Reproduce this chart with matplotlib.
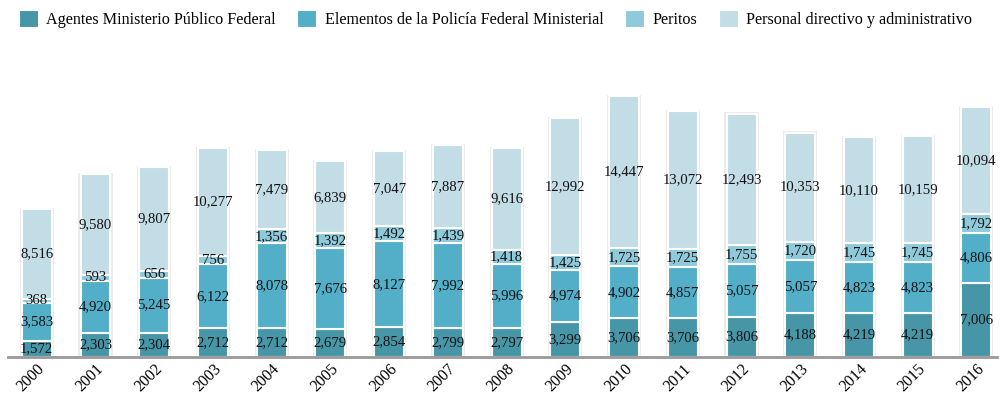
import numpy as np
import matplotlib.pyplot as plt

plt.rcParams['font.family'] = ['Liberation Serif', 'DejaVu Serif']

years = [str(y) for y in range(2000, 2017)]
agentes = [1572, 2303, 2304, 2712, 2712, 2679, 2854, 2799, 2797, 3299, 3706, 3706, 3806, 4188, 4219, 4219, 7006]
policia = [3583, 4920, 5245, 6122, 8078, 7676, 8127, 7992, 5996, 4974, 4902, 4857, 5057, 5057, 4823, 4823, 4806]
peritos = [368, 593, 656, 756, 1356, 1392, 1492, 1439, 1418, 1425, 1725, 1725, 1755, 1720, 1745, 1745, 1792]
personal = [8516, 9580, 9807, 10277, 7479, 6839, 7047, 7887, 9616, 12992, 14447, 13072, 12493, 10353, 10110, 10159, 10094]

series = [
    ("Agentes Ministerio Público Federal", agentes, "#4696a8"),
    ("Elementos de la Policía Federal Ministerial", policia, "#53afc7"),
    ("Peritos", peritos, "#8fcadb"),
    ("Personal directivo y administrativo", personal, "#c3dde6"),
]

fig = plt.figure(figsize=(10, 4.03), dpi=100)
ax = fig.add_axes([0.008, 0.114, 0.989, 0.737])

x = np.arange(len(years))
width = 0.51

# faint shadow behind each bar
totals = np.sum([s[1] for s in series], axis=0)
ax.bar(x, totals + 120, width=width + 0.07, color="#ececec", zorder=1)

bottom = np.zeros(len(years))
for name, vals, color in series:
    vals = np.array(vals)
    ax.bar(x, vals, width=width, bottom=bottom, color=color, edgecolor="white",
           linewidth=1.5, label=name, zorder=2)
    for xi, b, v in zip(x, bottom, vals):
        ax.text(xi, b + v / 2, f"{v:,}", ha="center", va="center",
                fontsize=10.6, color="#111111", zorder=3)
    bottom += vals

ax.set_xlim(-0.49, 16.35)
ax.set_ylim(0, 28200)
ax.set_xticks(x)
ax.set_xticklabels(years, rotation=45, ha="right", rotation_mode="anchor", fontsize=11.5)
ax.tick_params(axis="x", length=0, pad=3)
ax.set_yticks([])
for side in ["top", "right", "left"]:
    ax.spines[side].set_visible(False)
ax.spines["bottom"].set_color("#999999")
ax.spines["bottom"].set_linewidth(2)

fig.legend(loc="upper left", bbox_to_anchor=(0.004, 1.01), ncol=4, frameon=False,
           fontsize=11.6, handlelength=1.25, handleheight=1.25, handletextpad=0.45,
           columnspacing=1.35)

fig.savefig("out.png", dpi=100)
